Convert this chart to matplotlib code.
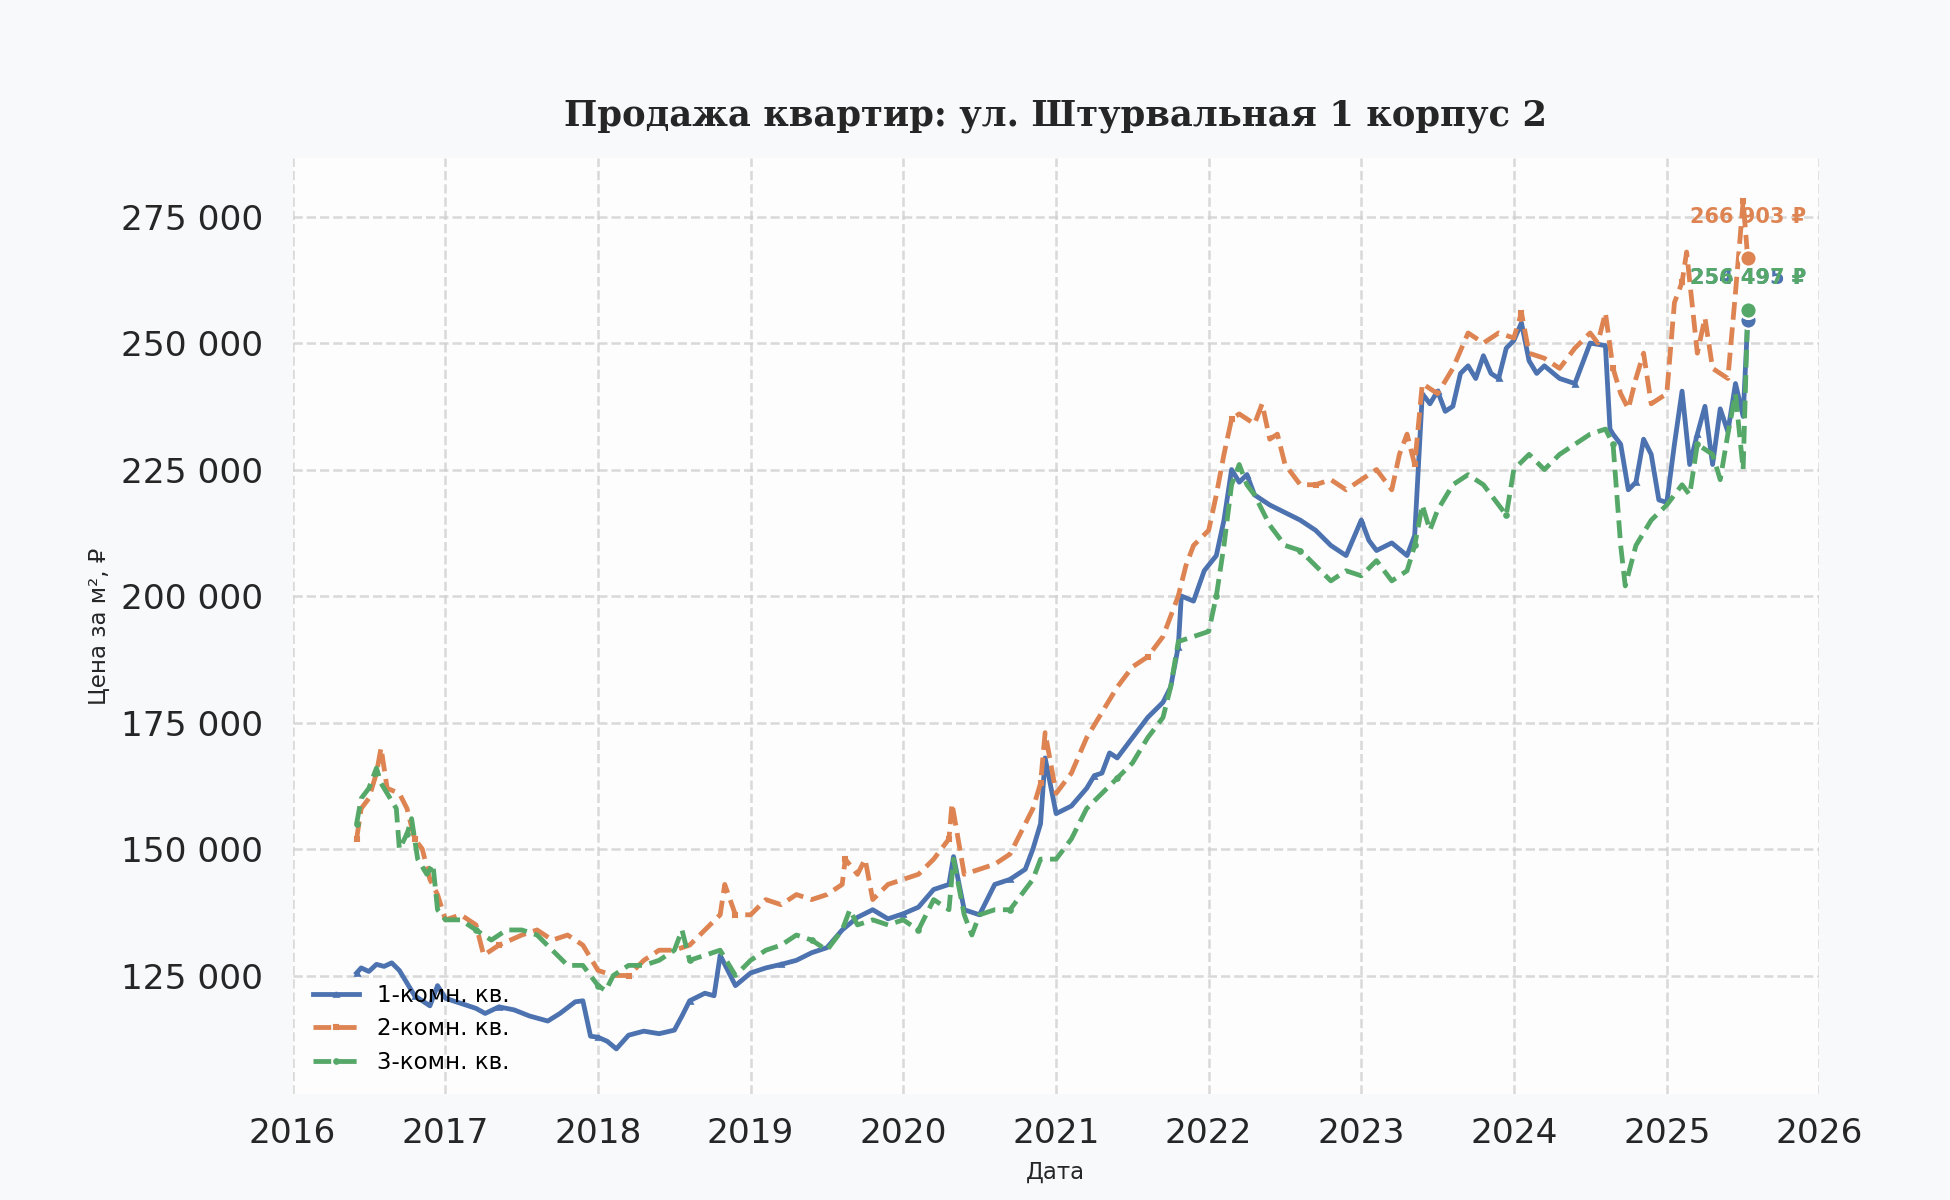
import matplotlib.pyplot as plt
import matplotlib.dates as mdates
import matplotlib.ticker as mticker
import pandas as pd

# Цена за м² по типу квартир (годы в десятичном виде)
years_1 = [2016.42, 2016.45, 2016.5, 2016.55, 2016.6, 2016.65, 2016.7, 2016.75, 2016.8, 2016.85,
           2016.9, 2016.95, 2017.0, 2017.1, 2017.2, 2017.26, 2017.35, 2017.45, 2017.55, 2017.67,
           2017.75, 2017.85, 2017.9, 2017.95, 2018.0, 2018.06, 2018.12, 2018.2, 2018.3, 2018.4,
           2018.5, 2018.55, 2018.6, 2018.7, 2018.76, 2018.8, 2018.85, 2018.9, 2019.0, 2019.1,
           2019.2, 2019.3, 2019.4, 2019.5, 2019.6, 2019.7, 2019.8, 2019.9, 2020.0, 2020.1,
           2020.2, 2020.3, 2020.33, 2020.4, 2020.5, 2020.6, 2020.7, 2020.8, 2020.85, 2020.9,
           2020.93, 2021.0, 2021.1, 2021.2, 2021.25, 2021.3, 2021.35, 2021.4, 2021.5, 2021.6,
           2021.7, 2021.75, 2021.8, 2021.82, 2021.9, 2021.97, 2022.05, 2022.1, 2022.15, 2022.2,
           2022.25, 2022.3, 2022.4, 2022.5, 2022.6, 2022.7, 2022.8, 2022.9, 2023.0, 2023.05,
           2023.1, 2023.2, 2023.3, 2023.35, 2023.4, 2023.45, 2023.5, 2023.55, 2023.6, 2023.65,
           2023.7, 2023.75, 2023.8, 2023.85, 2023.9, 2023.95, 2024.0, 2024.05, 2024.1, 2024.15,
           2024.2, 2024.3, 2024.4, 2024.45, 2024.5, 2024.6, 2024.63, 2024.65, 2024.7, 2024.75,
           2024.8, 2024.85, 2024.9, 2024.95, 2025.0, 2025.05, 2025.1, 2025.15, 2025.2, 2025.25,
           2025.3, 2025.35, 2025.4, 2025.45, 2025.5, 2025.53]
price_1 = [125500, 126500, 125800, 127200, 126800, 127500, 126000, 123500, 121000, 120000,
           119000, 123000, 120500, 119500, 118500, 117500, 118800, 118200, 117000, 116000,
           117500, 119800, 120000, 113000, 112800, 112000, 110500, 113200, 114000, 113500,
           114200, 117000, 120000, 121500, 121000, 129000, 126000, 123000, 125500, 126500,
           127200, 128000, 129500, 130500, 134000, 136500, 138000, 136200, 137200, 138500,
           142000, 143000, 148500, 138000, 137000, 143000, 144000, 146000, 150000, 155000,
           168000, 157000, 158500, 162000, 164500, 165000, 169000, 168000, 172000, 176000,
           179000, 182000, 190000, 200000, 199000, 205000, 208000, 215000, 225000, 222500,
           224000, 220000, 218000, 216500, 215000, 213000, 210000, 208000, 215000, 211000,
           209000, 210500, 208000, 212000, 240000, 238000, 240500, 236500, 237500, 244000,
           245500, 243000, 247500, 244000, 243000, 249000, 250500, 254000, 246500, 244000,
           245500, 243000, 242000, 246000, 250000, 249500, 233000, 232000, 230000, 221000,
           222500, 231000, 228000, 219000, 218500, 230000, 240500, 226000, 232000, 237500,
           226000, 237000, 232500, 242000, 235500, 254495]

years_2 = [2016.42, 2016.45, 2016.5, 2016.55, 2016.58, 2016.62, 2016.7, 2016.75, 2016.8, 2016.85,
           2016.9, 2016.95, 2017.0, 2017.1, 2017.2, 2017.25, 2017.35, 2017.5, 2017.6, 2017.7,
           2017.8, 2017.9, 2018.0, 2018.1, 2018.2, 2018.3, 2018.4, 2018.5, 2018.6, 2018.7,
           2018.8, 2018.83, 2018.9, 2019.0, 2019.1, 2019.2, 2019.3, 2019.4, 2019.5, 2019.6,
           2019.62, 2019.7, 2019.75, 2019.8, 2019.9, 2020.0, 2020.1, 2020.2, 2020.3, 2020.32,
           2020.4, 2020.5, 2020.6, 2020.7, 2020.8, 2020.85, 2020.9, 2020.93, 2021.0, 2021.1,
           2021.2, 2021.3, 2021.4, 2021.5, 2021.6, 2021.7, 2021.8, 2021.85, 2021.9, 2022.0,
           2022.05, 2022.1, 2022.15, 2022.2, 2022.3, 2022.35, 2022.4, 2022.45, 2022.5, 2022.6,
           2022.7, 2022.8, 2022.9, 2023.0, 2023.1, 2023.2, 2023.25, 2023.3, 2023.35, 2023.4,
           2023.5, 2023.6, 2023.7, 2023.8, 2023.9, 2024.0, 2024.05, 2024.1, 2024.2, 2024.3,
           2024.4, 2024.5, 2024.55, 2024.6, 2024.65, 2024.7, 2024.75, 2024.8, 2024.85, 2024.9,
           2025.0, 2025.05, 2025.1, 2025.13, 2025.2, 2025.25, 2025.3, 2025.35, 2025.4, 2025.45,
           2025.5, 2025.53]
price_2 = [152000, 158000, 160000, 165000, 170000, 162000, 161000, 158000, 152000, 150000,
           144000, 141000, 136000, 137000, 135000, 129000, 131000, 133000, 134000, 132000,
           133000, 131000, 126000, 125000, 125000, 128000, 130000, 130000, 131000, 134000,
           137000, 143000, 137000, 137000, 140000, 139000, 141000, 140000, 141000, 143000,
           148000, 145000, 148000, 140000, 143000, 144000, 145000, 148000, 152000, 159000,
           145000, 146000, 147000, 149000, 155000, 158000, 163000, 173000, 161000, 165000,
           172000, 177000, 182000, 186000, 188000, 192000, 200000, 206000, 210000, 213000,
           220000, 228000, 235000, 236000, 234000, 238000, 231000, 232000, 226000, 222000,
           222000, 223000, 221000, 223000, 225000, 221000, 228000, 232000, 226000, 242000,
           240000, 245000, 252000, 250000, 252000, 251000, 256000, 248000, 247000, 245000,
           249000, 252000, 250000, 256000, 245000, 240000, 237000, 243000, 248000, 238000,
           240000, 258000, 262000, 268000, 248000, 255000, 245000, 244000, 243000, 260000,
           278000, 266903]

years_3 = [2016.42, 2016.45, 2016.5, 2016.55, 2016.58, 2016.62, 2016.68, 2016.7, 2016.75, 2016.78,
           2016.82, 2016.88, 2016.92, 2016.95, 2017.0, 2017.1, 2017.2, 2017.3, 2017.4, 2017.5,
           2017.6, 2017.7, 2017.8, 2017.9, 2018.0, 2018.05, 2018.1, 2018.2, 2018.3, 2018.4,
           2018.5, 2018.55, 2018.6, 2018.7, 2018.8, 2018.9, 2019.0, 2019.1, 2019.2, 2019.3,
           2019.4, 2019.5, 2019.6, 2019.65, 2019.7, 2019.8, 2019.9, 2020.0, 2020.1, 2020.2,
           2020.3, 2020.33, 2020.4, 2020.45, 2020.5, 2020.6, 2020.7, 2020.8, 2020.85, 2020.9,
           2021.0, 2021.1, 2021.2, 2021.3, 2021.4, 2021.5, 2021.6, 2021.7, 2021.75, 2021.8,
           2021.9, 2022.0, 2022.05, 2022.1, 2022.15, 2022.2, 2022.25, 2022.3, 2022.4, 2022.5,
           2022.6, 2022.7, 2022.8, 2022.9, 2023.0, 2023.1, 2023.2, 2023.3, 2023.35, 2023.4,
           2023.45, 2023.5, 2023.6, 2023.7, 2023.8, 2023.9, 2023.95, 2024.0, 2024.1, 2024.2,
           2024.3, 2024.4, 2024.5, 2024.6, 2024.65, 2024.7, 2024.73, 2024.8, 2024.9, 2025.0,
           2025.1, 2025.15, 2025.2, 2025.3, 2025.35, 2025.4, 2025.45, 2025.5, 2025.53]
price_3 = [155000, 160000, 162000, 166000, 163000, 161000, 158000, 150000, 153000, 156000,
           148000, 145000, 147000, 138000, 136000, 136000, 134000, 132000, 134000, 134000,
           133000, 130000, 127000, 127000, 123000, 122000, 125000, 127000, 127000, 128000,
           130000, 134000, 128000, 129000, 130000, 125000, 128000, 130000, 131000, 133000,
           132000, 130000, 134000, 138000, 135000, 136000, 135000, 136000, 134000, 140000,
           138000, 148000, 137000, 133000, 137000, 138000, 138000, 142000, 144000, 148000,
           148000, 152000, 158000, 161000, 164000, 167000, 172000, 176000, 182000, 191000,
           192000, 193000, 200000, 210000, 222000, 226000, 222000, 220000, 214000, 210000,
           209000, 206000, 203000, 205000, 204000, 207000, 203000, 205000, 210000, 218000,
           213000, 217000, 222000, 224000, 222000, 218000, 216000, 225000, 228000, 225000,
           228000, 230000, 232000, 233000, 230000, 210000, 202000, 210000, 215000, 218000,
           222000, 220000, 230000, 228000, 223000, 232000, 240000, 225000, 256497]

labels = ['1-комн. кв.', '2-комн. кв.', '3-комн. кв.']
end_labels = ['254 495 ₽', '266 903 ₽', '256 497 ₽']
colors = ['#4c72b0', '#dd8452', '#55a868']


def to_dates(years):
    # десятичный год -> дата
    return [pd.Timestamp(int(y), 1, 1) + pd.Timedelta(days=(y - int(y)) * 365.25) for y in years]


series = [(to_dates(years_1), price_1), (to_dates(years_2), price_2), (to_dates(years_3), price_3)]
styles = [('-', '^'), ('--', 's'), ('--', 'o')]
text_y = [262800, 275000, 262800]

fig = plt.figure(figsize=(13, 8), dpi=150, facecolor='#f8f9fb')
ax = fig.add_axes([0.150, 0.088, 0.783, 0.78])
ax.set_facecolor('#fdfdfd')

for (x, y), lab, col, (ls, mk) in zip(series, labels, colors, styles):
    ax.plot(x, y, linestyle=ls, marker=mk, markersize=2.2, markevery=8,
            color=col, linewidth=2.3, label=lab)

for (x, y), col, txt, ty in zip(series, colors, end_labels, text_y):
    ax.plot(x[-1], y[-1], 'o', color=col, markersize=8, markeredgecolor='white',
            markeredgewidth=1.2, zorder=5)
    ax.text(x[-1], ty, txt, color=col, fontsize=10, fontweight='bold',
            ha='center', va='center', zorder=6)

ax.set_xlim(pd.Timestamp('2016-01-01'), pd.Timestamp('2026-01-01'))
ax.set_ylim(101500, 286500)
ax.xaxis.set_major_locator(mdates.YearLocator())
ax.xaxis.set_major_formatter(mdates.DateFormatter('%Y'))
ax.yaxis.set_major_locator(mticker.MultipleLocator(25000))
ax.yaxis.set_major_formatter(mticker.FuncFormatter(lambda v, p: f'{int(v):,}'.replace(',', ' ')))

ax.grid(True, linestyle='--', color='#d0d0d0', linewidth=1.2, alpha=0.8)
for s in ax.spines.values():
    s.set_visible(False)
ax.tick_params(axis='x', labelsize=16.5, length=0, pad=11, colors='#262626')
ax.tick_params(axis='y', labelsize=16.5, length=0, pad=14, colors='#262626')

ax.set_xlabel('Дата', fontsize=11, color='#262626', labelpad=5)
ax.set_ylabel('Цена за м², ₽', fontsize=11, color='#262626', labelpad=5)
ax.set_title('Продажа квартир: ул. Штурвальная 1 корпус 2', fontsize=17, fontweight='bold',
             family='DejaVu Serif', color='#262626', pad=16)

ax.legend(loc='lower left', frameon=False, fontsize=11, borderaxespad=0.5, labelspacing=0.45)

plt.savefig('out.png', dpi=150, facecolor=fig.get_facecolor())
